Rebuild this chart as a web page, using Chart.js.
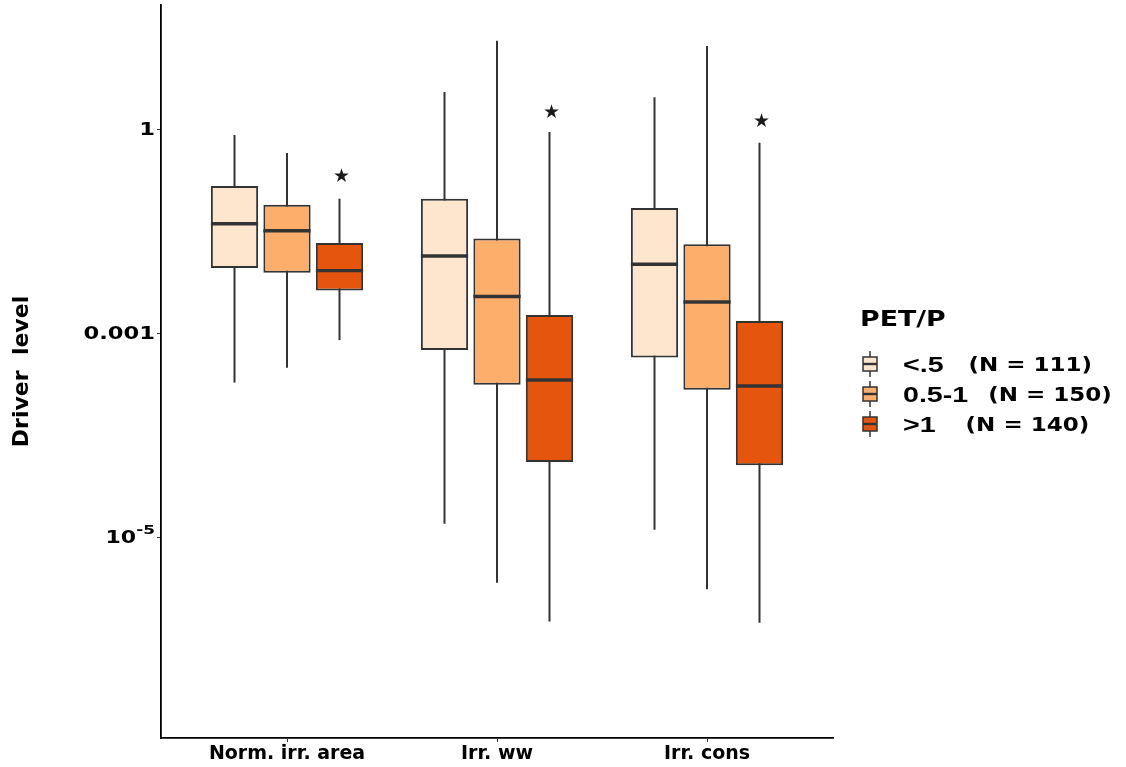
<!DOCTYPE html>
<html>
<head>
<meta charset="utf-8">
<script src="https://cdn.jsdelivr.net/npm/chart.js@4.4.0/dist/chart.umd.min.js"></script>
<style>
html, body { margin: 0; padding: 0; background: #fff; }
#wrap { width: 1126px; height: 767px; position: relative; }
</style>
</head>
<body>
<div id="wrap"><canvas id="boxChart"></canvas></div>
<script>
const categories = ['Norm. irr. area', 'Irr. ww', 'Irr. cons'];
const groupLabels = ['<.5', '0.5-1', '>1'];
const groupCounts = ['(N = 111)', '(N = 150)', '(N = 140)'];
const groupColors = ['#FEE6CE', '#FDAE6B', '#E6550D'];

// one row per PET/P group, one value per category
const whiskerLow  = [[3.3e-4, 1.36e-5, 1.19e-5], [4.6e-4, 3.6e-6, 3.1e-6], [8.6e-4, 1.5e-6, 1.46e-6]];
const quartile1   = [[0.0092, 6.9e-4, 5.8e-4], [0.0078, 3.15e-4, 2.8e-4], [0.0043, 5.5e-5, 5.1e-5]];
const medians     = [[0.041, 0.0138, 0.0104], [0.0325, 0.0035, 0.0029], [0.0084, 3.5e-4, 3.05e-4]];
const quartile3   = [[0.148, 0.096, 0.070], [0.078, 0.025, 0.0205], [0.0214, 0.00187, 0.00153]];
const whiskerHigh = [[0.83, 3.56, 2.98], [0.45, 20.2, 16.9], [0.096, 0.92, 0.64]];
const starValues  = [0.20, 1.73, 1.28];   // stars above the >1 boxes

const tickValues = [1, 0.001, 1e-5];
const tickLabels = ['1', '0.001', '10^-5'];
const yMin = 1.08e-7;
const yMax = 67.8;

// the axis puts 1, 0.001 and 1e-5 at equal steps, so log10 is piecewise
function toAxis(v){
    const l = Math.log10(v);
    return l >= -3 ? l / 3 : -1 + (l + 3) / 2;
}

function stretchText(ctx, text, x, y, sx){
    ctx.save();
    ctx.translate(x, y);
    ctx.scale(sx, 1);
    ctx.fillText(text, 0, 0);
    ctx.restore();
}

const datasets = groupLabels.map((g, i) => ({
    label: g,
    data: categories.map((c, j) => ({x: j, y: [toAxis(quartile1[i][j]), toAxis(quartile3[i][j])]})),
    backgroundColor: groupColors[i],
    borderColor: '#333333',
    borderWidth: 2,
    borderSkipped: false,
    categoryPercentage: 0.75,
    barPercentage: 0.9
}));

const boxParts = {
    id: 'boxParts',
    beforeDatasetsDraw(chart){
        const ctx = chart.ctx;
        const y = chart.scales.y;
        ctx.save();
        ctx.strokeStyle = '#333333';
        ctx.lineWidth = 2;
        datasets.forEach((d, i) => {
            chart.getDatasetMeta(i).data.forEach((bar, j) => {
                ctx.beginPath();
                ctx.moveTo(bar.x, y.getPixelForValue(toAxis(whiskerHigh[i][j])));
                ctx.lineTo(bar.x, y.getPixelForValue(toAxis(whiskerLow[i][j])));
                ctx.stroke();
            });
        });
        ctx.restore();
    },
    afterDatasetsDraw(chart){
        const ctx = chart.ctx;
        const y = chart.scales.y;
        ctx.save();
        ctx.strokeStyle = '#333333';
        ctx.lineWidth = 3.4;
        datasets.forEach((d, i) => {
            chart.getDatasetMeta(i).data.forEach((bar, j) => {
                const py = y.getPixelForValue(toAxis(medians[i][j]));
                ctx.beginPath();
                ctx.moveTo(bar.x - bar.width / 2, py);
                ctx.lineTo(bar.x + bar.width / 2, py);
                ctx.stroke();
            });
        });
        ctx.fillStyle = '#1a1a1a';
        ctx.font = '19px "DejaVu Sans"';
        ctx.textAlign = 'center';
        ctx.textBaseline = 'middle';
        chart.getDatasetMeta(2).data.forEach((bar, j) => {
            ctx.fillText('\u2605', bar.x + 2, y.getPixelForValue(toAxis(starValues[j])));
        });
        ctx.restore();
    },
    afterDraw(chart){
        const ctx = chart.ctx;
        const y = chart.scales.y;
        ctx.save();
        ctx.fillStyle = '#000';
        ctx.textBaseline = 'middle';
        ctx.textAlign = 'right';
        // y tick labels, with a raised exponent for 10^-5
        tickValues.forEach((v, k) => {
            const py = y.getPixelForValue(toAxis(v));
            const right = y.left + y.width - 6;
            const parts = tickLabels[k].split('^');
            if (parts.length === 2){
                ctx.font = 'bold 13px "DejaVu Sans"';
                const supW = ctx.measureText(parts[1]).width * 1.3;
                stretchText(ctx, parts[1], right, py - 7, 1.3);
                ctx.font = 'bold 17px "DejaVu Sans"';
                stretchText(ctx, parts[0], right - supW, py + 1, 1.3);
            } else {
                ctx.font = 'bold 17px "DejaVu Sans"';
                stretchText(ctx, tickLabels[k], right, py + 1, 1.33);
            }
        });
        // legend
        const lx = chart.chartArea.right + 27;
        ctx.textAlign = 'left';
        ctx.textBaseline = 'alphabetic';
        ctx.font = 'bold 22px "DejaVu Sans"';
        stretchText(ctx, 'PET/P', lx, 326, 1.22);
        const rowY = [364, 394, 424];
        const gaps = [25, 20, 30];
        groupLabels.forEach((g, i) => {
            const cy = rowY[i];
            const kx = lx + 10;
            ctx.strokeStyle = '#333333';
            ctx.lineWidth = 1.5;
            ctx.beginPath();
            ctx.moveTo(kx, cy - 13);
            ctx.lineTo(kx, cy + 13);
            ctx.stroke();
            ctx.fillStyle = groupColors[i];
            ctx.fillRect(kx - 7, cy - 7, 14, 14);
            ctx.strokeRect(kx - 7, cy - 7, 14, 14);
            ctx.lineWidth = 2.4;
            ctx.beginPath();
            ctx.moveTo(kx - 7, cy);
            ctx.lineTo(kx + 7, cy);
            ctx.stroke();
            ctx.fillStyle = '#000';
            ctx.textBaseline = 'middle';
            ctx.font = 'bold 22px "Liberation Sans"';
            const tx = lx + 43;
            stretchText(ctx, g, tx, cy + 2, 1.3);
            const w = ctx.measureText(g).width * 1.3;
            ctx.font = 'bold 20px "DejaVu Sans"';
            stretchText(ctx, groupCounts[i], tx + w + gaps[i], cy + 2, 1.15);
        });
        ctx.restore();
    }
};

new Chart('boxChart', {
    type: 'bar',
    data: { datasets: datasets },
    options: {
        responsive: true,
        maintainAspectRatio: false,
        animation: false,
        layout: { padding: { top: 5, right: 293, left: 0, bottom: 0 } },
        plugins: {
            legend: { display: false },
            tooltip: { enabled: false }
        },
        scales: {
            x: {
                type: 'linear',
                min: -0.6,
                max: 2.6,
                offset: false,
                afterBuildTicks: s => { s.ticks = categories.map((c, i) => ({value: i})); },
                afterFit: s => { s.height = 29; },
                ticks: {
                    callback: v => categories[v],
                    font: { family: 'DejaVu Sans', weight: 'bold', size: 19 },
                    color: '#000',
                    padding: 1,
                    autoSkip: false,
                    maxRotation: 0
                },
                grid: { offset: false, drawOnChartArea: false, drawTicks: true, tickLength: 4, color: '#333' },
                border: { color: '#000', width: 1.8 }
            },
            y: {
                type: 'linear',
                min: toAxis(yMin),
                max: toAxis(yMax),
                afterBuildTicks: s => { s.ticks = tickValues.map(v => ({value: toAxis(v)})); },
                afterFit: s => { s.width = 161; },
                ticks: { display: false },
                grid: { drawOnChartArea: false, drawTicks: true, tickLength: 4, color: '#333' },
                border: { color: '#000', width: 1.8 },
                title: {
                    display: true,
                    text: 'Driver  level',
                    font: { family: 'DejaVu Sans', weight: 'bold', size: 22 },
                    color: '#000',
                    padding: { top: 9, bottom: 0 }
                }
            }
        }
    },
    plugins: [boxParts]
});
</script>
</body>
</html>
